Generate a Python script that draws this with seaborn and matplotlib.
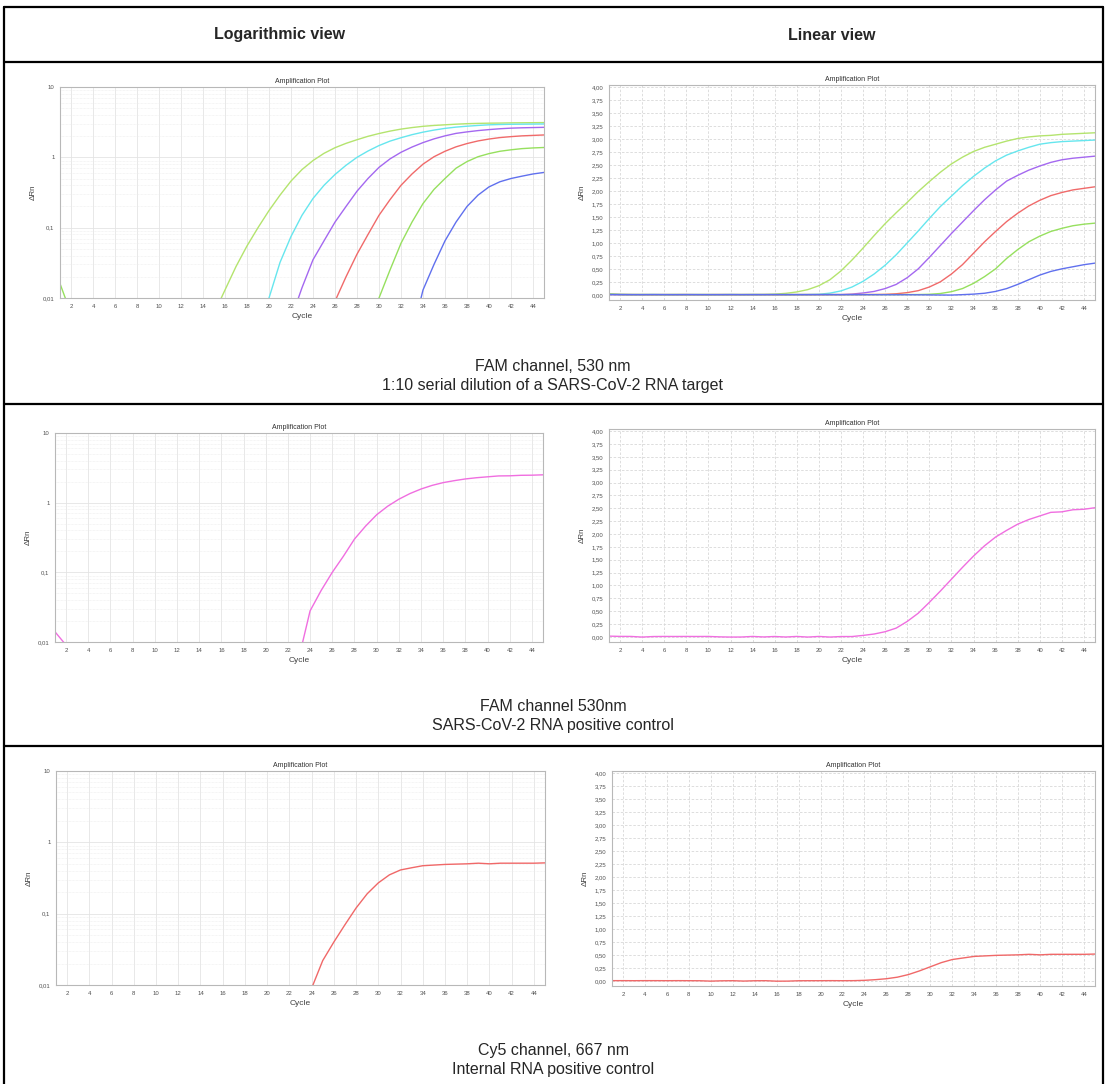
import numpy as np
import pandas as pd
import matplotlib
matplotlib.use("Agg")
import matplotlib.pyplot as plt
import matplotlib.ticker as mticker
from matplotlib.lines import Line2D
import seaborn as sns

sns.set_style("white")
plt.rcParams["font.family"] = ["Liberation Sans", "DejaVu Sans"]

# ------------------------------------------------------------
# data (delta Rn per cycle)
# ------------------------------------------------------------
cycles = list(range(1, 46))

# row 1 : 1:10 serial dilution, FAM channel
dil_1 = [0.008, 0.006, 0.005, 0.005, 0.004, 0.004, 0.005, 0.004, 0.004, 0.005,
         0.004, 0.005, 0.005, 0.005, 0.006, 0.013, 0.028, 0.055, 0.10, 0.175,
         0.29, 0.46, 0.67, 0.90, 1.14, 1.37, 1.58, 1.78, 1.99, 2.18,
         2.36, 2.52, 2.65, 2.76, 2.84, 2.90, 2.96, 3.01, 3.04, 3.06,
         3.07, 3.09, 3.10, 3.11, 3.12]
dil_2 = [0.006, 0.005, 0.004, 0.004, 0.005, 0.004, 0.004, 0.003, 0.004, 0.004,
         0.003, 0.004, 0.004, 0.005, 0.004, 0.004, 0.005, 0.004, 0.005, 0.010,
         0.032, 0.075, 0.15, 0.26, 0.40, 0.57, 0.77, 1.00, 1.23, 1.47,
         1.70, 1.90, 2.10, 2.28, 2.44, 2.58, 2.69, 2.77, 2.84, 2.90,
         2.93, 2.95, 2.96, 2.97, 2.98]
dil_3 = [0.005, 0.004, 0.004, 0.003, 0.004, 0.004, 0.003, 0.004, 0.004, 0.003,
         0.004, 0.004, 0.003, 0.004, 0.004, 0.004, 0.003, 0.004, 0.004, 0.004,
         0.005, 0.005, 0.014, 0.035, 0.065, 0.12, 0.20, 0.33, 0.50, 0.72,
         0.95, 1.18, 1.40, 1.62, 1.83, 2.02, 2.19, 2.30, 2.40, 2.48,
         2.55, 2.60, 2.63, 2.65, 2.67]
dil_4 = [0.007, 0.005, 0.004, 0.004, 0.003, 0.004, 0.004, 0.004, 0.003, 0.004,
         0.004, 0.003, 0.004, 0.004, 0.004, 0.003, 0.004, 0.004, 0.004, 0.004,
         0.004, 0.004, 0.005, 0.005, 0.006, 0.009, 0.020, 0.042, 0.080, 0.15,
         0.25, 0.40, 0.58, 0.80, 1.02, 1.22, 1.41, 1.57, 1.71, 1.82,
         1.91, 1.97, 2.02, 2.05, 2.08]
dil_5 = [0.016, 0.006, 0.004, 0.004, 0.004, 0.003, 0.004, 0.004, 0.004, 0.003,
         0.004, 0.004, 0.003, 0.004, 0.004, 0.004, 0.003, 0.004, 0.004, 0.004,
         0.004, 0.003, 0.004, 0.004, 0.004, 0.004, 0.004, 0.005, 0.005, 0.010,
         0.025, 0.060, 0.12, 0.22, 0.35, 0.50, 0.70, 0.87, 1.02, 1.13,
         1.22, 1.28, 1.33, 1.36, 1.38]
dil_6 = [0.006, 0.004, 0.003, 0.003, 0.004, 0.003, 0.003, 0.004, 0.003, 0.003,
         0.003, 0.004, 0.003, 0.003, 0.003, 0.004, 0.003, 0.003, 0.003, 0.003,
         0.003, 0.002, 0.002, 0.002, 0.002, 0.001, 0.001, 0.001, 0.000, -0.002,
         -0.004, -0.005, 0.003, 0.013, 0.030, 0.065, 0.12, 0.20, 0.29, 0.38,
         0.45, 0.50, 0.54, 0.58, 0.61]
dil_names = ["1e6", "1e5", "1e4", "1e3", "1e2", "1e1"]
dil_colors = ["#b4e46e", "#66e6ee", "#a468f0", "#f06a6a", "#96e05e", "#6070ee"]

# row 2 : SARS-CoV-2 RNA positive control, FAM channel
pos_ctrl = [0.014, 0.009, 0.008, -0.004, 0.006, 0.008, 0.007, 0.008, 0.007, 0.008,
            0.000, -0.004, -0.003, 0.008, -0.002, 0.007, -0.003, 0.008, -0.004, 0.008,
            -0.004, 0.006, 0.006, 0.028, 0.055, 0.10, 0.17, 0.30, 0.46, 0.67,
            0.89, 1.12, 1.35, 1.57, 1.77, 1.94, 2.07, 2.19, 2.28, 2.35,
            2.42, 2.43, 2.47, 2.48, 2.51]
pos_color = "#f06ee0"

# row 3 : internal RNA positive control, Cy5 channel
int_ctrl = [0.003, 0.003, 0.002, 0.003, 0.003, 0.002, 0.003, 0.002, 0.001, -0.006,
            0.000, 0.002, -0.005, 0.001, 0.002, -0.007, -0.006, 0.001, 0.002, 0.002,
            0.003, 0.002, 0.003, 0.009, 0.022, 0.040, 0.070, 0.12, 0.19, 0.27,
            0.35, 0.41, 0.44, 0.47, 0.48, 0.49, 0.495, 0.50, 0.51, 0.50,
            0.51, 0.51, 0.51, 0.51, 0.515]
int_color = "#f06868"

headers = ["Logarithmic view", "Linear view"]
captions = [
    "FAM channel, 530 nm\n1:10 serial dilution of a SARS-CoV-2 RNA target",
    "FAM channel 530nm\nSARS-CoV-2 RNA positive control",
    "Cy5 channel, 667 nm\nInternal RNA positive control",
]

log_ticks = [0.01, 0.1, 1, 10]
log_labels = ["0,01", "0,1", "1", "10"]
lin_ticks = [i * 0.25 for i in range(17)]
x_ticks = list(range(2, 46, 2))

# ------------------------------------------------------------
# long-form tables for seaborn
# ------------------------------------------------------------
row1 = pd.DataFrame({
    "Cycle": cycles * 6,
    "dRn": dil_1 + dil_2 + dil_3 + dil_4 + dil_5 + dil_6,
    "sample": [n for n in dil_names for _ in cycles],
})
row2 = pd.DataFrame({"Cycle": cycles, "dRn": pos_ctrl, "sample": "pos"})
row3 = pd.DataFrame({"Cycle": cycles, "dRn": int_ctrl, "sample": "ipc"})

rows = [
    (row1, dict(zip(dil_names, dil_colors))),
    (row2, {"pos": pos_color}),
    (row3, {"ipc": int_color}),
]

# ------------------------------------------------------------
# figure + layout (pixel boxes: left, right, top, bottom)
# ------------------------------------------------------------
W, H = 1106, 1084
fig = plt.figure(figsize=(W / 100, H / 100), dpi=100)

log_boxes = [(60, 544, 87, 298), (55, 543, 433, 642), (56, 545, 771, 985)]
lin_boxes = [(609, 1095, 85, 300), (609, 1095, 429, 642), (612, 1095, 771, 986)]


def px_axes(box):
    l, r, t, b = box
    return fig.add_axes([l / W, 1 - b / H, (r - l) / W, (b - t) / H])


def style_common(ax):
    for s in ax.spines.values():
        s.set_color("#b8b8b8")
        s.set_linewidth(0.8)
    ax.set_xlim(1, 45)
    ax.set_xticks(x_ticks)
    ax.tick_params(axis="both", which="major", length=2, width=0.5,
                   color="#909090", labelsize=4.3, labelcolor="#505050", pad=2)
    ax.tick_params(axis="both", which="minor", length=0)
    ax.set_title("Amplification Plot", fontsize=5.0, color="#303030", pad=3)
    ax.set_xlabel("Cycle", fontsize=6.0, color="#404040", labelpad=3)
    ax.set_ylabel("ΔRn", fontsize=5.8, color="#404040", labelpad=4)


for (df, pal), lbox, nbox in zip(rows, log_boxes, lin_boxes):
    # logarithmic view
    ax = px_axes(lbox)
    sns.lineplot(data=df, x="Cycle", y="dRn", hue="sample", palette=pal,
                 estimator=None, sort=False, legend=False, linewidth=1.0, ax=ax)
    ax.set_yscale("log")
    ax.set_ylim(0.01, 10)
    ax.set_yticks(log_ticks)
    ax.set_yticklabels(log_labels)
    ax.yaxis.set_minor_locator(mticker.LogLocator(base=10, subs=np.arange(2, 10)))
    ax.grid(True, which="major", color="#e4e4e4", linewidth=0.6)
    ax.grid(True, which="minor", axis="y", color="#ececec", linewidth=0.5,
            linestyle=(0, (1, 1)))
    style_common(ax)

    # linear view
    ax = px_axes(nbox)
    sns.lineplot(data=df, x="Cycle", y="dRn", hue="sample", palette=pal,
                 estimator=None, sort=False, legend=False, linewidth=1.0, ax=ax)
    ax.set_ylim(-0.1, 4.04)
    ax.set_yticks(lin_ticks)
    ax.yaxis.set_major_formatter(
        mticker.FuncFormatter(lambda v, p: f"{v:.2f}".replace(".", ",")))
    ax.grid(True, which="major", color="#d8d8d8", linewidth=0.6,
            linestyle=(0, (3, 2)))
    style_common(ax)

# ------------------------------------------------------------
# table frame and text
# ------------------------------------------------------------
def hline(y, x0=4, x1=1103):
    fig.add_artist(Line2D([x0 / W, x1 / W], [1 - y / H, 1 - y / H],
                          color="black", linewidth=1.6))


def vline(x, y0=7, y1=H):
    fig.add_artist(Line2D([x / W, x / W], [1 - y0 / H, 1 - y1 / H],
                          color="black", linewidth=1.6))


for y in [7, 62, 404, 746]:
    hline(y)
vline(4)
vline(1103)

fig.text(280 / W, 1 - 35 / H, headers[0], ha="center", va="center",
         fontsize=11.5, fontweight="bold")
fig.text(832 / W, 1 - 35 / H, headers[1], ha="center", va="center",
         fontsize=11.5, fontweight="bold")

for cap, yc in zip(captions, [376, 716, 1060]):
    fig.text(553 / W, 1 - yc / H, cap, ha="center", va="center",
             fontsize=11.5, linespacing=1.3)

fig.savefig("out.png", dpi=100)
